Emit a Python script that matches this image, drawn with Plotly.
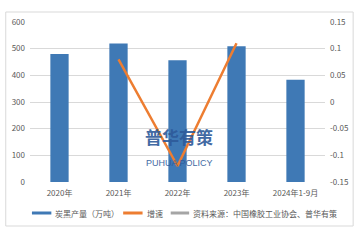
import plotly.graph_objects as go

categories = ["2020年", "2021年", "2022年", "2023年", "2024年1-9月"]
output_wt = [480, 519, 457, 509, 383]
growth = [None, 0.08, -0.12, 0.11, None]
left_ticks = [0, 100, 200, 300, 400, 500, 600]
right_ticks = [-0.15, -0.1, -0.05, 0, 0.05, 0.1, 0.15]
right_tick_text = ["-0.15", "-0.1", "-0.05", "0", "0.05", "0.1", "0.15"]
legend_labels = ["炭黑产量（万吨）", "增速", "资料来源：中国橡胶工业协会、普华有策"]

FONT = "Noto Sans CJK SC"
TICK = "#595959"
BAR = "#3F79B5"
ORANGE = "#ED7D31"
GREY = "#A5A5A5"

fig = go.Figure()
fig.add_trace(go.Bar(x=categories, y=output_wt, marker=dict(color=BAR, line=dict(width=0)),
                     width=0.31, showlegend=False, yaxis="y"))
fig.add_trace(go.Scatter(x=categories, y=growth, mode="lines", line=dict(color=ORANGE, width=2.5),
                         showlegend=False, yaxis="y2", connectgaps=False))

W, H = 360, 240
L, R, T, B = 26, 30, 22, 58
pw, ph = W - L - R, H - T - B

def px(x):
    return (x - L) / pw

def py(y):
    return (H - B - y) / ph

shapes = [
    dict(type="rect", xref="paper", yref="paper", x0=px(1), x1=px(359), y0=py(226), y1=py(12),
         line=dict(color="#D9D9D9", width=1), layer="below"),
]
annotations = []
leg = [(28, 48, 50, BAR), (122, 142, 144, ORANGE), (171, 190, 192, GREY)]
for (a, b, t, c), lab in zip(leg, legend_labels):
    shapes.append(dict(type="line", xref="paper", yref="paper", x0=px(a), x1=px(b), y0=py(213), y1=py(213),
                       line=dict(color=c, width=3)))
    annotations.append(dict(text=lab, xref="paper", yref="paper", x=px(t), y=py(213), xanchor="left",
                            yanchor="middle", showarrow=False, font=dict(family=FONT, size=8, color=TICK)))

annotations.append(dict(text="<b>普华有策</b>", xref="paper", yref="paper", x=px(180), y=py(151),
                        showarrow=False, font=dict(family=FONT, size=17, color="#2E5A9A"), opacity=0.9))
annotations.append(dict(text="PUHUA POLICY", xref="paper", yref="paper", x=px(180), y=py(170),
                        showarrow=False, font=dict(family="Liberation Sans", size=9, color="#2E5A9A"), opacity=0.9))

fig.update_layout(
    width=W, height=H, margin=dict(l=L, r=R, t=T, b=B),
    paper_bgcolor="white", plot_bgcolor="white",
    font=dict(family=FONT, size=8, color=TICK),
    xaxis=dict(type="category", showline=False, ticks="", tickfont=dict(size=8, color=TICK),
               showgrid=False, zeroline=False, ticklabelstandoff=5),
    yaxis=dict(range=[0, 600], tickvals=left_ticks, showgrid=True, gridcolor="#D9D9D9", gridwidth=1,
               zeroline=False, showline=False, ticks="", tickfont=dict(size=8, color=TICK),
               ticklabelstandoff=4),
    yaxis2=dict(range=[-0.15, 0.15], overlaying="y", side="right", tickvals=right_ticks,
                ticktext=right_tick_text, showgrid=False, zeroline=False, showline=False, ticks="",
                tickfont=dict(size=8, color=TICK), ticklabelstandoff=4),
    shapes=shapes, annotations=annotations, showlegend=False,
)

fig.write_html("out.html")
